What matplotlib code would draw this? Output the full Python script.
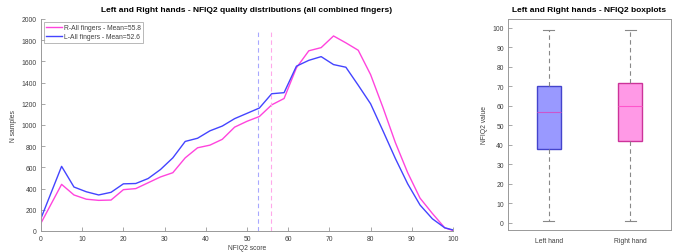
import matplotlib
matplotlib.use("Agg")
import matplotlib.pyplot as plt

plt.rcParams['font.family'] = ['Liberation Sans', 'DejaVu Sans']

# NFIQ2 score bins
scores = [0, 5, 8, 11, 14, 17, 20, 23, 26, 29, 32, 35, 38, 41, 44, 47, 50,
          53, 56, 59, 62, 65, 68, 71, 74, 77, 80, 83, 86, 89, 92, 95, 98, 100]
right_counts = [75, 440, 340, 300, 289, 292, 390, 400, 455, 510, 550, 690, 785,
                810, 865, 980, 1035, 1080, 1190, 1250, 1540, 1700, 1730, 1840,
                1775, 1705, 1475, 1165, 835, 550, 310, 165, 30, 5]
left_counts = [120, 610, 415, 370, 340, 365, 445, 448, 495, 580, 690, 845, 875,
               945, 990, 1060, 1110, 1160, 1295, 1305, 1555, 1610, 1645, 1570,
               1545, 1375, 1200, 945, 685, 445, 245, 115, 30, 10]
right_mean = 55.8
left_mean = 52.6

# boxplot stats: whisker low, q1, median, q3, whisker high
box_labels = ['Left hand', 'Right hand']
box_low = [1, 1]
box_q1 = [38, 42]
box_med = [57, 60]
box_q3 = [70, 72]
box_high = [99, 99]

pink = '#ff44dd'
blue = '#4444ff'
axcol = '#999999'
txtcol = '#404040'
fs = 4.9

fig = plt.figure(figsize=(6.73, 2.53), dpi=100)
ax1 = fig.add_axes([41/673, 1 - 232/253, 412/673, 212/253])
ax2 = fig.add_axes([508/673, 1 - 231/253, 163/673, 211/253])

ax1.plot(scores, right_counts, color=pink, lw=1.0,
         label='R-All fingers - Mean=%.1f' % right_mean)
ax1.plot(scores, left_counts, color=blue, lw=1.0,
         label='L-All fingers - Mean=%.1f' % left_mean)
ax1.plot([left_mean, left_mean], [0, 1880], color='#a8a8ff', lw=0.8, ls=(0, (4, 3)))
ax1.plot([right_mean, right_mean], [0, 1880], color='#ffa8ea', lw=0.8, ls=(0, (4, 3)))
ax1.set_xlim(0, 100)
ax1.set_ylim(0, 2000)
ax1.set_xticks(range(0, 101, 10))
ax1.set_yticks(range(0, 2001, 200))
ax1.spines['top'].set_visible(False)
ax1.spines['right'].set_visible(False)
ax1.set_xlabel('NFIQ2 score', fontsize=fs, color=txtcol, labelpad=1.5)
ax1.set_ylabel('N samples', fontsize=fs, color=txtcol, labelpad=3)
ax1.set_title('Left and Right hands - NFIQ2 quality distributions (all combined fingers)',
              fontsize=6.0, fontweight='bold', pad=6)
leg = ax1.legend(loc='upper left', fontsize=fs, frameon=True, fancybox=False,
                 handlelength=2.4, handletextpad=0.2, borderpad=0.35,
                 labelspacing=0.3, borderaxespad=0.4)
leg.get_frame().set_edgecolor(axcol)
leg.get_frame().set_linewidth(0.6)
for t in leg.get_texts():
    t.set_color(txtcol)

stats = []
for i in range(2):
    stats.append(dict(label=box_labels[i], whislo=box_low[i], q1=box_q1[i],
                      med=box_med[i], q3=box_q3[i], whishi=box_high[i], fliers=[]))
bp = ax2.bxp(stats, positions=[1, 2], widths=0.3, patch_artist=True,
             showfliers=False,
             whiskerprops=dict(color='#888888', lw=0.8, ls=(0, (4, 3))),
             capprops=dict(color='#888888', lw=0.8),
             capwidths=0.14)
face = ['#9999ff', '#ff99e6']
edge = ['#4444cc', '#cc3399']
meds = ['#cc55cc', '#ff55cc']
for i in range(2):
    bp['boxes'][i].set_facecolor(face[i])
    bp['boxes'][i].set_edgecolor(edge[i])
    bp['boxes'][i].set_linewidth(1.0)
    bp['medians'][i].set_color(meds[i])
    bp['medians'][i].set_linewidth(0.8)
ax2.set_xlim(0.5, 2.5)
ax2.set_ylim(-3.6, 104.6)
ax2.set_yticks(range(0, 101, 10))
ax2.set_ylabel('NFIQ2 value', fontsize=fs, color=txtcol, labelpad=3)
ax2.set_title('Left and Right hands - NFIQ2 boxplots', fontsize=6.0,
              fontweight='bold', pad=6)

for ax in (ax1, ax2):
    for s in ax.spines.values():
        s.set_color(axcol)
        s.set_linewidth(0.7)
    ax.tick_params(direction='in', length=3, width=0.6, color=axcol,
                   labelsize=fs, labelcolor=txtcol, pad=3)
ax2.tick_params(axis='x', length=0, pad=5)

fig.savefig('out.png', dpi=100)
